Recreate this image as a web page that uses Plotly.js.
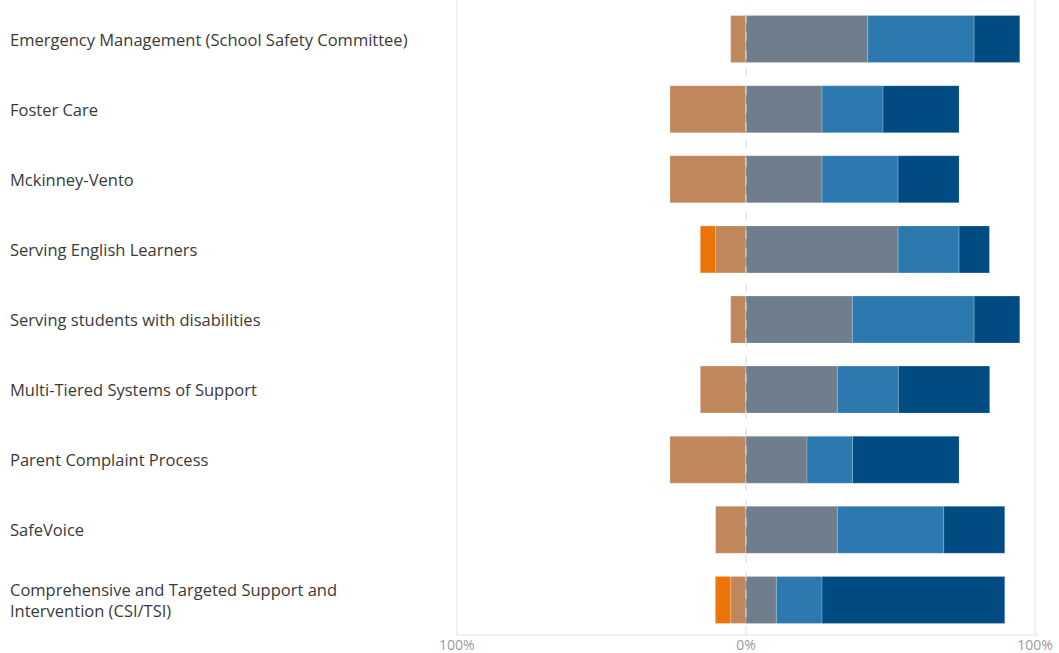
<!DOCTYPE html>
<html>
<head>
<meta charset="utf-8">
<script src="https://cdn.plot.ly/plotly-3.0.1.min.js"></script>
<style>
html,body{margin:0;padding:0;background:#fff;}
#chart{width:1059px;height:653px;}
</style>
</head>
<body>
<div id="chart"></div>
<script>
// Categories (top to bottom)
var categories = [
  "Emergency Management (School Safety Committee)",
  "Foster Care",
  "Mckinney-Vento",
  "Serving English Learners",
  "Serving students with disabilities",
  "Multi-Tiered Systems of Support",
  "Parent Complaint Process",
  "SafeVoice",
  "Comprehensive and Targeted Support and<br>Intervention (CSI/TSI)"
];
// Percent of responses per category (negative side drawn left of 0)
var disagree        = [5.3, 26.3, 26.3, 10.5, 5.3, 15.8, 26.3, 10.5, 5.3];
var stronglyDisagree= [0,   0,    0,    5.3,  0,   0,    0,    0,    5.3];
var neutral         = [42.1, 26.3, 26.3, 52.6, 36.8, 31.6, 21.1, 31.6, 10.5];
var agree           = [36.8, 21.1, 26.3, 21.1, 42.1, 21.1, 15.8, 36.8, 15.8];
var stronglyAgree   = [15.8, 26.3, 21.1, 10.5, 15.8, 31.6, 36.8, 21.1, 63.2];
var tickVals  = [-100, 0, 100];
var tickTexts = ["100%", "0%", "100%"];

var neg = function(a){ return a.map(function(v){ return -v; }); };
var outline = {color: "rgba(255,255,255,0.35)", width: 0.6};

function tr(name, vals, color){
  return {
    type: "bar", orientation: "h", name: name,
    y: categories, x: vals,
    marker: {color: color, line: outline},
    hoverinfo: "skip"
  };
}

var data = [
  tr("Disagree", neg(disagree), "#C0875C"),
  tr("Strongly Disagree", neg(stronglyDisagree), "#EC7307"),
  tr("Neutral", neutral, "#6F7D8C"),
  tr("Agree", agree, "#2C79B0"),
  tr("Strongly Agree", stronglyAgree, "#004B82")
];

var annotations = categories.map(function(c){
  return {
    xref: "paper", x: -0.7632, xanchor: "left",
    yref: "y", y: c, yanchor: "middle",
    text: c, showarrow: false, align: "left",
    font: {family: "Open Sans, Noto Sans, sans-serif", size: 16.5, color: "#3a3a3a"}
  };
});

var shapes = [{
  type: "line", xref: "x", yref: "paper",
  x0: 0, x1: 0, y0: 0, y1: 1,
  line: {color: "#d9d9d9", width: 1, dash: "dash"}
}];

var layout = {
  width: 1059, height: 653,
  margin: {l: 454, r: 21, t: 4, b: 18},
  paper_bgcolor: "#fff", plot_bgcolor: "#fff",
  barmode: "relative",
  bargap: 0.33,
  showlegend: false,
  xaxis: {
    range: [-101, 101],
    tickvals: tickVals, ticktext: tickTexts,
    showgrid: false,
    zeroline: false,
    showline: false,
    ticks: "",
    tickfont: {family: "Open Sans, Noto Sans, sans-serif", size: 14, color: "#9a9a9a"},
    fixedrange: true
  },
  yaxis: {
    autorange: "reversed",
    showticklabels: false,
    showgrid: false, zeroline: false, ticks: "",
    fixedrange: true
  },
  annotations: annotations,
  shapes: shapes.concat([
    {type: "line", xref: "x", yref: "paper", x0: -100, x1: -100, y0: 0, y1: 1.01, line: {color: "#e3e3e3", width: 1}},
    {type: "line", xref: "x", yref: "paper", x0: 100, x1: 100, y0: 0, y1: 1.01, line: {color: "#e3e3e3", width: 1}},
    {type: "line", xref: "x", yref: "paper", x0: -100, x1: 101, y0: 0, y1: 0, line: {color: "#e3e3e3", width: 1}}
  ])
};

Plotly.newPlot("chart", data, layout, {displayModeBar: false, staticPlot: true});
</script>
</body>
</html>
